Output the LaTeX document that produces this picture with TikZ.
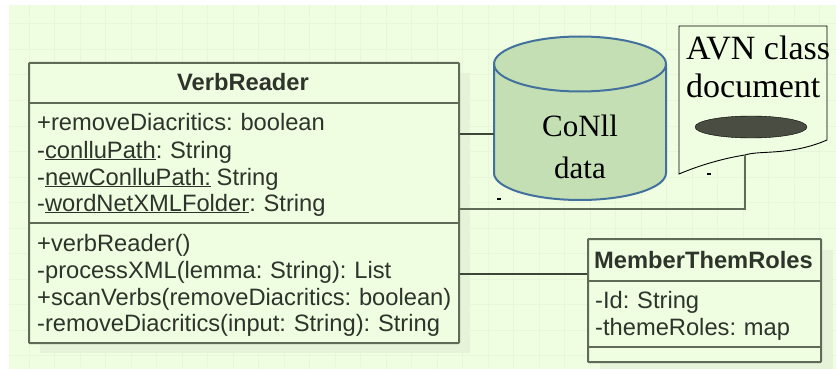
\documentclass[tikz,border=0pt]{standalone}
\usepackage{fontspec}
\setmainfont{Liberation Sans}[WordSpace=0.85]
\newfontfamily\serifdoc{Liberation Serif}
\usetikzlibrary{shapes.geometric}
\definecolor{bggreen}{HTML}{EFFDE0}
\definecolor{gridgreen}{HTML}{E8F6DA}
\definecolor{shadowgreen}{HTML}{E6F3D9}
\definecolor{umlline}{HTML}{5F6A58}
\definecolor{umltext}{HTML}{2E332B}
\definecolor{conline}{HTML}{3E463A}
\definecolor{cylfill}{HTML}{C5DFB4}
\definecolor{cylline}{HTML}{41719C}
\definecolor{ovalfill}{HTML}{4A4E42}
\tikzset{
  umlbox/.style={draw=umlline,line width=2pt,fill=bggreen,rounded corners=0.8pt,anchor=north west,inner sep=0pt},
  boxshadow/.style={fill=shadowgreen,draw=none,anchor=north west,inner sep=0pt},
  divider/.style={draw=umlline,line width=2pt},
  umltxt/.style={anchor=base west,inner sep=0pt,text=umltext,font=\fontsize{23.7}{24}\selectfont},
  umltitle/.style={anchor=base,inner sep=0pt,text=umltext,font=\fontsize{23.7}{24}\selectfont\bfseries},
  doctxt/.style={anchor=base west,inner sep=0pt,text=black,font=\fontsize{34}{34}\selectfont\serifdoc},
  cyltxt/.style={anchor=base,inner sep=0pt,text=black,font=\fontsize{31}{31}\selectfont\serifdoc},
  connector/.style={draw=conline,line width=1.3pt},
  connectorlight/.style={draw=umlline,line width=1.3pt},
  dashmark/.style={inner sep=0pt,minimum width=4pt,minimum height=1.2pt,fill=black}
}
\newcommand{\ul}[1]{\underline{#1}}
\begin{document}
\begin{tikzpicture}[x=1pt,y=-1pt]
\useasboundingbox (0,0) rectangle (836,369);
\fill[bggreen] (9,5) rectangle (836,369);
\begin{scope}
\clip (9,5) rectangle (836,369);
\foreach \gx in {29,54.5,...,835}{\draw[gridgreen,line width=1pt] (\gx,5) -- (\gx,369);}
\foreach \gy in {24,49.5,...,369}{\draw[gridgreen,line width=1pt] (9,\gy) -- (836,\gy);}
\end{scope}
% shadows
\node[boxshadow,minimum width=430pt,minimum height=280pt] (vrshadow) at (40,73) {};
\node[boxshadow,minimum width=233pt,minimum height=123pt] (mtshadow) at (600,250) {};
% VerbReader
\node[umlbox,minimum width=430pt,minimum height=280pt] (vr) at (28,62) {};
\coordinate (vrd1) at (28,103);
\coordinate (vrd2) at (28,223);
\draw[divider] (vrd1) -- (vrd1 -| vr.east);
\draw[divider] (vrd2) -- (vrd2 -| vr.east);
\node[umltitle] (vrtitle) at (243,91) {VerbReader};
\node[umltxt] (a1) at (37,131) {+removeDiacritics: boolean};
\node[umltxt] (a2) at (37,158) {-\ul{conlluPath}: String};
\node[umltxt] (a3) at (37,185) {-\ul{newConlluPath:} String};
\node[umltxt] (a4) at (37,211) {-\ul{wordNetXMLFolder}: String};
\node[umltxt] (m1) at (37,251) {+verbReader()};
\node[umltxt] (m2) at (37,278) {-processXML(lemma: String): List};
\node[umltxt] (m3) at (37,305) {+scanVerbs(removeDiacritics: boolean)};
\node[umltxt] (m4) at (37,331) {-removeDiacritics(input: String): String};
% MemberThemRoles
\node[umlbox,minimum width=233pt,minimum height=123pt] (mt) at (587,238) {};
\coordinate (mtd1) at (587,281);
\coordinate (mtd2) at (587,347);
\draw[divider] (mtd1) -- (mtd1 -| mt.east);
\draw[divider] (mtd2) -- (mtd2 -| mt.east);
\node[umltitle] (mttitle) at (703.5,268) {MemberThemRoles};
\node[umltxt] (t1) at (595,308) {-Id: String};
\node[umltxt] (t2) at (595,335) {-themeRoles: map};
% Cylinder
\path[fill=cylfill,draw=cylline,line width=2pt] (494,64) -- (494,173) arc[start angle=180,end angle=360,x radius=86pt,y radius=27pt] -- (666,64) arc[start angle=0,end angle=180,x radius=86pt,y radius=27.5pt] -- cycle;
\draw[cylline,line width=2pt] (494,64) arc[start angle=180,end angle=360,x radius=86pt,y radius=27.5pt];
\coordinate (cylL) at (494,134);
\node[cyltxt] (c1) at (580,136) {CoNll};
\node[cyltxt] (c2) at (580,178) {data};
% Document
\path[draw=black,line width=0.9pt,fill=bggreen] (679,26) -- (827,26) -- (827,140) .. controls (790,156) and (760,150) .. (745,155) .. controls (725,158) and (700,165) .. (679,174) -- cycle;
\coordinate (docB) at (745,155);
\node[doctxt] (d1) at (686,60) {AVN class};
\node[doctxt] (d2) at (686,97) {document};
\node[draw=black,line width=0.4pt,fill=ovalfill,ellipse,minimum width=112pt,minimum height=22pt,inner sep=0pt] (oval) at (751,127) {};
\node[dashmark] (dash1) at (499,199) {};
\node[dashmark] (dash2) at (709,174) {};
% connectors
\draw[connector] (vr.east |- cylL) -- (cylL);
\coordinate (bend) at (745,209);
\draw[connectorlight] (vr.east |- bend) -- (bend) -- (docB);
\coordinate (mtL) at (mt.west |- 0,274);
\draw[connector] (vr.east |- mtL) -- (mtL);
\end{tikzpicture}
\end{document}
